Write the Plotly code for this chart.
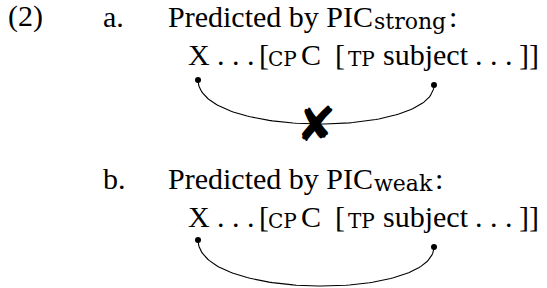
import plotly.graph_objects as go
import numpy as np

# ---- data (text pieces of the example, link endpoints) ----
example_number = "(2)"
item_labels = ["a.", "b."]
heading_main = "Predicted by PIC"
heading_subs = ["strong", "weak"]
structure_main = ["X", ". . .", "[", "C", "[", "subject", ". . .", "]]"]
structure_subs = ["CP", "TP"]
link_start = [(198, 80), (198, 240)]     # dot under X
link_end = [(434, 85), (434, 247)]       # dot under subject
link_bottom = [124, 286]                 # lowest point of each arc
blocked = [True, False]                  # ✗ on the arc

# ---- layout constants (page pixels) ----
W, H = 547, 288
SERIF = "Liberation Serif, Times New Roman, serif"
SUBF = "DejaVu Serif, serif"
FS, HSFS, SSFS = 30, 22, 20
row_base = [27.5, 189.5]
row_gap = 38
main_x = [186.5, 216, 257.5, 300, 333.5, 382, 473.5, 517.5]
sub_x = [267, 347]
head_sub_x = 373
colon_x = [448, 434]

fig = go.Figure()


def text(x, baseline, s, family=SERIF, size=FS, descent=0.216):
    fig.add_annotation(x=x, y=baseline + descent * size, text=s,
                       showarrow=False, xanchor="left", yanchor="bottom",
                       borderpad=0,
                       font=dict(family=family, size=size, color="black"))


def bezier(p0, p1, p2, p3, n=100):
    t = np.linspace(0, 1, n)[:, None]
    P = ((1 - t) ** 3) * np.array(p0) + 3 * t * (1 - t) ** 2 * np.array(p1) \
        + 3 * t ** 2 * (1 - t) * np.array(p2) + t ** 3 * np.array(p3)
    return P[:, 0], P[:, 1]


text(7, row_base[0], example_number)
for i in range(2):
    b0, b1 = row_base[i], row_base[i] + row_gap
    text(102, b0, item_labels[i])
    text(167, b0, heading_main)
    text(head_sub_x, b0 + 2.5, heading_subs[i], family=SUBF, size=HSFS, descent=0.236)
    text(colon_x[i], b0, ":")
    for x, s in zip(main_x, structure_main):
        text(x, b1, s)
    for x, s in zip(sub_x, structure_subs):
        text(x, b1 + 2, s, family=SUBF, size=SSFS, descent=0.236)

    s, e = link_start[i], link_end[i]
    c = (link_bottom[i] - 0.125 * (s[1] + e[1])) / 0.75
    xs, ys = bezier(s, (s[0] + 1, c), (e[0] - 1, c), e)
    fig.add_trace(go.Scatter(x=xs, y=ys, mode="lines",
                             line=dict(color="black", width=1.1),
                             hoverinfo="skip", showlegend=False))
    fig.add_trace(go.Scatter(x=[s[0], e[0]], y=[s[1], e[1]], mode="markers",
                             marker=dict(color="black", size=6),
                             hoverinfo="skip", showlegend=False))
    if blocked[i]:
        mx, my = bezier(s, (s[0] + 1, c), (e[0] - 1, c), e, n=3)
        fig.add_annotation(x=mx[1], y=my[1], text="\u2718",
                           showarrow=False, xanchor="center", yanchor="middle",
                           font=dict(family="DejaVu Sans", size=48, color="black"))

fig.update_layout(
    width=W, height=H,
    margin=dict(l=0, r=0, t=0, b=0),
    paper_bgcolor="white", plot_bgcolor="white",
    xaxis=dict(range=[0, W], visible=False, fixedrange=True),
    yaxis=dict(range=[H, 0], visible=False, fixedrange=True),
    showlegend=False,
    hovermode=False,
)
fig.write_html("out.html",
               config={"displayModeBar": False, "staticPlot": True},
               post_script="document.body.style.margin='0';document.body.style.overflow='hidden';")
